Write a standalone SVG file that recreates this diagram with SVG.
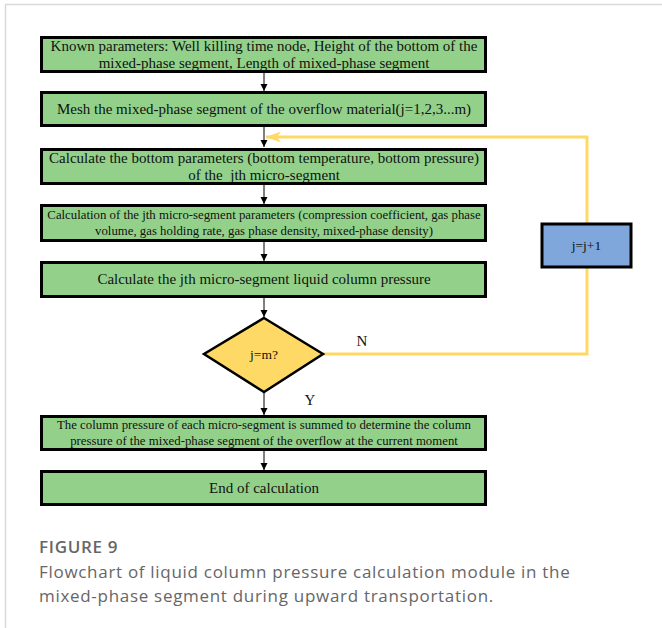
<svg xmlns="http://www.w3.org/2000/svg" width="662" height="628" viewBox="0 0 662 628">
<style>
.box{fill:#93D18A;stroke:#000;stroke-width:3}
.t{font-family:"Liberation Serif",serif;fill:#111;text-anchor:middle}
.c{stroke:#000;stroke-width:1;fill:none}
.y{stroke:#FFD966;stroke-width:3;fill:none}
.cap{font-family:"Open Sans","Noto Sans",sans-serif;fill:#666;font-size:17px;letter-spacing:0.7px}
</style>
<defs>
<marker id="ah" markerWidth="8" markerHeight="8" refX="7" refY="4" orient="auto" markerUnits="userSpaceOnUse">
<path d="M0,0.5 L7,4 L0,7.5 Z" fill="#000"/>
</marker>
<marker id="yh" markerWidth="16" markerHeight="12" refX="15" refY="6" orient="auto" markerUnits="userSpaceOnUse">
<path d="M0,0.5 L15,6 L0,11.5 L4,6 Z" fill="#FFD966"/>
</marker>
</defs>
<rect x="0" y="0" width="662" height="628" fill="#fff"/>
<path d="M5.5,628 V4.5 H662" fill="none" stroke="#d9d9d9" stroke-width="1.5"/>
<g id="connectors">
<line class="c" x1="264" y1="72" x2="264" y2="91" marker-end="url(#ah)"/>
<line class="c" x1="264" y1="126" x2="264" y2="147" marker-end="url(#ah)"/>
<line class="c" x1="264" y1="184" x2="264" y2="204" marker-end="url(#ah)"/>
<line class="c" x1="264" y1="241" x2="264" y2="261" marker-end="url(#ah)"/>
<line class="c" x1="264" y1="297" x2="264" y2="317" marker-end="url(#ah)"/>
<line class="c" x1="264" y1="393" x2="264" y2="415" marker-end="url(#ah)"/>
<line class="c" x1="264" y1="450" x2="264" y2="470" marker-end="url(#ah)"/>
<path class="y" d="M323,354 H587 V268"/>
<path class="y" d="M587,223 V137 H266" marker-end="url(#yh)"/>
<text class="t" x="362" y="346" font-size="15">N</text>
<text class="t" x="310" y="405" font-size="15">Y</text>
</g>
<g id="n1">
<rect class="box" x="41.5" y="37.5" width="444" height="34"/>
<text class="t" x="264" y="51" font-size="15">Known parameters: Well killing time node, Height of the bottom of the</text>
<text class="t" x="264" y="67.5" font-size="15">mixed-phase segment, Length of mixed-phase segment</text>
</g>
<g id="n2">
<rect class="box" x="41.5" y="92.5" width="444" height="33"/>
<text class="t" x="264" y="114" font-size="15">Mesh the mixed-phase segment of the overflow material(j=1,2,3...m)</text>
</g>
<g id="n3">
<rect class="box" x="41.5" y="149.5" width="444" height="34"/>
<text class="t" x="264" y="163" font-size="15">Calculate the bottom parameters (bottom temperature, bottom pressure)</text>
<text class="t" x="264" y="179.5" font-size="15" xml:space="preserve">of the  jth micro-segment</text>
</g>
<g id="n4">
<rect class="box" x="41.5" y="205.5" width="444" height="35"/>
<text class="t" x="264" y="219" font-size="12.8">Calculation of the jth micro-segment parameters (compression coefficient, gas phase</text>
<text class="t" x="264" y="235" font-size="12.8">volume, gas holding rate, gas phase density, mixed-phase density)</text>
</g>
<g id="n5">
<rect class="box" x="41.5" y="262.5" width="444" height="34"/>
<text class="t" x="264" y="284" font-size="15">Calculate the jth micro-segment liquid column pressure</text>
</g>
<g id="n6">
<polygon points="264,318 323,354 264,392 204,354" fill="#FFD966" stroke="#000" stroke-width="2.5"/>
<text class="t" x="264" y="359" font-size="13.5">j=m?</text>
</g>
<g id="n7">
<rect x="542" y="224" width="89" height="43" fill="#7FA7DB" stroke="#000" stroke-width="3"/>
<text class="t" x="586.5" y="250" font-size="13.5">j=j+1</text>
</g>
<g id="n8">
<rect class="box" x="41.5" y="416.5" width="444" height="33"/>
<text class="t" x="264" y="429" font-size="12.8">The column pressure of each micro-segment is summed to determine the column</text>
<text class="t" x="264" y="445" font-size="12.8">pressure of the mixed-phase segment of the overflow at the current moment</text>
</g>
<g id="n9">
<rect class="box" x="41.5" y="471.5" width="444" height="33"/>
<text class="t" x="264" y="493" font-size="15">End of calculation</text>
</g>
<text class="cap" x="39" y="553" font-weight="600">FIGURE 9</text>
<text class="cap" x="39" y="578">Flowchart of liquid column pressure calculation module in the</text>
<text class="cap" x="39" y="602">mixed-phase segment during upward transportation.</text>
</svg>
